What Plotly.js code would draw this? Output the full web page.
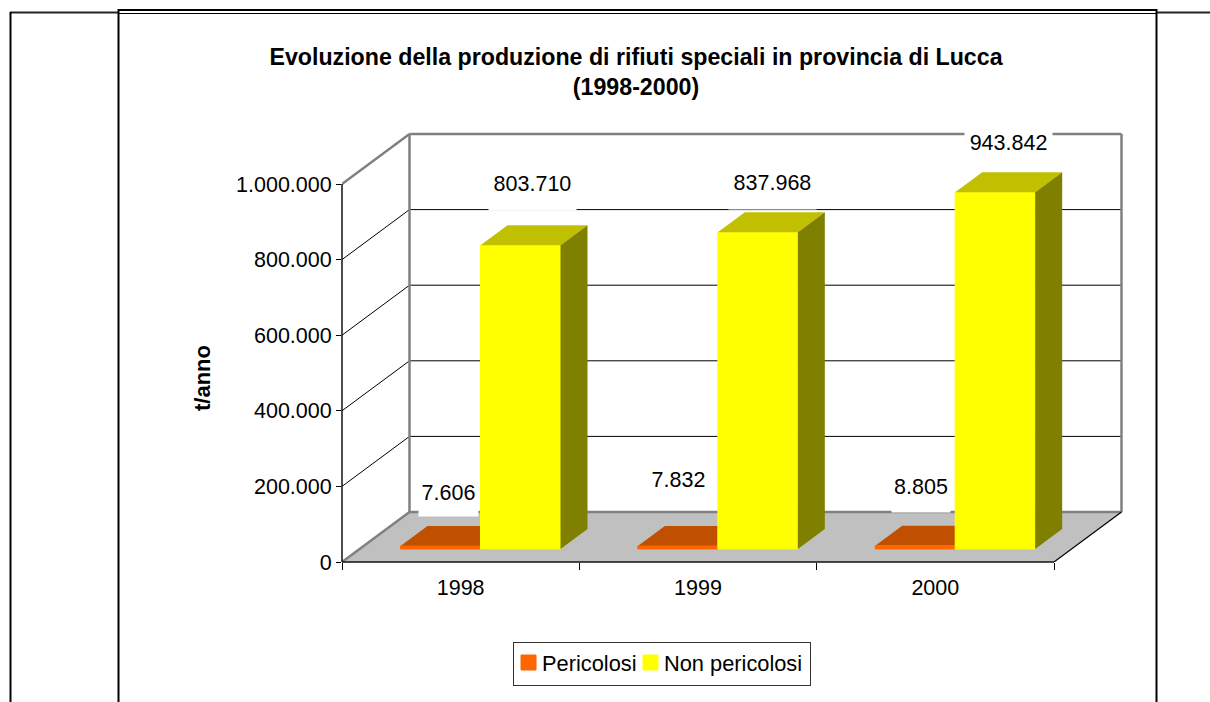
<!DOCTYPE html>
<html>
<head>
<meta charset="utf-8">
<script src="https://cdn.plot.ly/plotly-3.0.1.min.js"></script>
<style>html,body{margin:0;padding:0;background:#fff;overflow:hidden}</style>
</head>
<body>
<div id="chart" style="width:1210px;height:702px"></div>
<script>
// ---- data ----
const categories = ['1998', '1999', '2000'];
const pericolosi = [7606, 7832, 8805];
const nonPericolosi = [803710, 837968, 943842];
const yTicks = [0, 200000, 400000, 600000, 800000, 1000000];
const seriesNames = ['Pericolosi', 'Non pericolosi'];

// ---- plot geometry ----
const L = 342, R = 1054, B = 562, T = 184;      // front plane of the 3D box
const plotR = 1126, plotT = 128;                // plot rect also holds the receding walls
const N = categories.length;
const YMAXV = 1000000;
const pxX = (R - L) / N;                        // px per category
const pxY = (B - T) / YMAXV;                    // px per value unit
const xMax = (plotR - L) / pxX, yMax = (B - plotT) / pxY;
const DX = 67.5 / pxX;                          // full depth, x data units
const DY = 50 / pxY;                            // full depth, y data units
const dFront = 0.26, dBar = 0.40;               // bar position inside the depth
const barW = 80 / pxX;
const groupX = [98.5 / pxX, 178.5 / pxX];       // series centre inside a category

const fmt = v => String(v).replace(/\B(?=(\d{3})+(?!\d))/g, '.');
const P = (x, v, d) => [x + d * DX, v + d * DY];

function poly(points, color, axes) {
  const pts = points.concat([points[0]]);
  return Object.assign({
    type: 'scatter', mode: 'lines', x: pts.map(p => p[0]), y: pts.map(p => p[1]),
    fill: 'toself', fillcolor: color, line: {width: 0, color: color},
    hoverinfo: 'skip', showlegend: false
  }, axes || {});
}
function seg(a, b, color, width) {
  return {
    type: 'scatter', mode: 'lines', x: [a[0], b[0]], y: [a[1], b[1]],
    line: {color: color, width: width}, hoverinfo: 'skip', showlegend: false
  };
}
const over = {xaxis: 'x2', yaxis: 'y2'};

const traces = [];
// floor
traces.push(poly([P(0, 0, 0), P(N, 0, 0), P(N, 0, 1), P(0, 0, 1)], '#c0c0c0'));
// gridlines on the side and back walls
yTicks.forEach(v => {
  if (v > 0 && v < YMAXV) {
    traces.push(seg(P(0, v, 0), P(0, v, 1), '#000000', 1));
    traces.push(seg(P(0, v, 1), P(N, v, 1), '#000000', 1));
  }
});
// wall outlines
const G = '#808080';
traces.push(seg(P(0, YMAXV, 0), P(0, YMAXV, 1), G, 2.5));
traces.push(seg(P(0, YMAXV, 1), P(N, YMAXV, 1), G, 2.5));
traces.push(seg(P(0, 0, 1), P(0, YMAXV, 1), G, 2.5));
traces.push(seg(P(N, 0, 1), P(N, YMAXV, 1), G, 2.5));
traces.push(seg(P(0, 0, 1), P(N, 0, 1), G, 2.5));
traces.push(seg(P(0, 0, 0), P(0, 0, 1), G, 2.5));
traces.push(seg(P(N, 0, 0), P(N, 0, 1), '#000000', 1.2));

// depth faces of a bar
function faces(xc, v, topColor, sideColor, axes) {
  const x0 = xc - barW / 2, x1 = xc + barW / 2;
  const a = P(x0, v, dFront), b = P(x1, v, dFront);
  const c = P(x1, v, dFront + dBar), d = P(x0, v, dFront + dBar);
  const e = P(x1, 0, dFront + dBar), f = P(x1, 0, dFront);
  return [poly([a, b, c, d], topColor, axes), poly([b, c, e, f], sideColor, axes)];
}
pericolosi.forEach((v, i) => {
  traces.push(...faces(i + groupX[0] - dFront * DX, v, '#c05000', '#803300'));
});
// front faces, native bars on the overlaid axes
const baseVal = dFront * DY;
traces.push({
  type: 'bar', name: seriesNames[0], x: categories.map((c, i) => i + groupX[0]), y: pericolosi,
  base: baseVal, width: barW, marker: {color: '#ff6600', line: {color: '#ff6600', width: 1}},
  xaxis: 'x2', yaxis: 'y2', hoverinfo: 'y'
});
traces.push({
  type: 'bar', name: seriesNames[1], x: categories.map((c, i) => i + groupX[1]), y: nonPericolosi,
  base: baseVal, width: barW, marker: {color: '#ffff00', line: {color: '#ffff00', width: 1}},
  xaxis: 'x2', yaxis: 'y2', hoverinfo: 'y'
});
nonPericolosi.forEach((v, i) => {
  traces.push(...faces(i + groupX[1] - dFront * DX, v, '#c0c000', '#808000', over));
});

// value labels: hand-placed in the original, kept as pixel shifts from the bar's top-front centre
const FONT = 'Liberation Sans, Arial, sans-serif';
const labelFont = {family: FONT, size: 21.5, color: '#000'};
const annotations = [];
function label(v, i, g, sx, sy, w, h) {
  annotations.push({
    xref: 'x', yref: 'y', x: i + groupX[g], y: v + baseVal, text: fmt(v), showarrow: false,
    xanchor: 'center', yanchor: 'middle', xshift: sx, yshift: sy, width: w, height: h,
    bgcolor: '#ffffff', borderpad: 0, font: labelFont, captureevents: false
  });
}
const smallShift = [[8, 53, 59, 46], [1, 66, 57, 30], [6, 59, 58, 50]];
const bigShift = [[12, 61, 87, 52], [15, 49, 87, 52], [13, 49, 87, 26]];
pericolosi.forEach((v, i) => label(v, i, 0, ...smallShift[i]));
nonPericolosi.forEach((v, i) => label(v, i, 1, ...bigShift[i]));

// page frame (table cell borders in the source document) and the axis lines
const sx = px => (px - L) / (plotR - L), sy = py => (B - py) / (B - plotT);
const frame = (x0, y0, x1, y1, w, c) => ({
  type: 'line', xref: 'paper', yref: 'paper', x0: sx(x0), y0: sy(y0), x1: sx(x1), y1: sy(y1),
  line: {color: c || '#000', width: w}, layer: 'above'
});
const shapes = [
  frame(10, 12.5, 118, 12.5, 2, '#222'), frame(10.5, 12, 10.5, 702, 2),
  frame(118, 10, 1157, 10, 2), frame(118, 13.5, 1156, 13.5, 1),
  frame(118.5, 9, 118.5, 702, 2), frame(1156.5, 9, 1156.5, 702, 2),
  frame(1157, 12.5, 1210, 12.5, 2, '#222'),
  {type: 'line', xref: 'paper', yref: 'paper', x0: 0, x1: 0, y0: 0, y1: YMAXV / yMax, line: {color: '#111', width: 1.5}, layer: 'above'},
  {type: 'line', xref: 'paper', yref: 'paper', x0: 0, x1: N / xMax, y0: 0, y1: 0, line: {color: '#111', width: 1.5}, layer: 'above'}
];

const baseFont = {family: FONT, size: 21.5, color: '#000'};
const layout = {
  width: 1210, height: 702,
  margin: {l: L, r: 1210 - plotR, t: plotT, b: 702 - B, pad: 0},
  paper_bgcolor: '#fff', plot_bgcolor: 'rgba(0,0,0,0)',
  separators: ',.',
  font: baseFont,
  showlegend: true,
  hovermode: 'closest',
  barmode: 'overlay',
  title: {
    text: '<b>Evoluzione della produzione di rifiuti speciali in provincia di Lucca<br>(1998-2000)</b>',
    x: 636 / 1210, xanchor: 'center', xref: 'container', y: 1 - 65 / 702, yanchor: 'top',
    font: {family: FONT, size: 23.2, color: '#000'}
  },
  xaxis: {
    range: [0, xMax], showgrid: false, zeroline: false, fixedrange: true, showline: false,
    tickmode: 'array', tickvals: categories.map((c, i) => i + 0.5), ticktext: categories,
    ticks: '', ticklabelstandoff: 10, tickfont: baseFont,
    minor: {tickmode: 'array', tickvals: [0, 1, 2, 3], ticks: 'outside', ticklen: 7, tickcolor: '#000', tickwidth: 1, showgrid: false}
  },
  yaxis: {
    range: [0, yMax], showgrid: false, zeroline: false, fixedrange: true, showline: false,
    tickmode: 'array', tickvals: yTicks, tickformat: ',d',
    ticks: 'outside', ticklen: 5, tickcolor: '#000', tickwidth: 1, tickfont: baseFont,
    title: {text: '<b>t/anno</b>', font: {family: FONT, size: 22, color: '#000'}, standoff: 20}
  },
  xaxis2: {range: [0, xMax], overlaying: 'x', visible: false, fixedrange: true},
  yaxis2: {range: [0, yMax], overlaying: 'y', visible: false, fixedrange: true},
  legend: {
    orientation: 'h', x: 513 / 1210, xref: 'container', y: 1 - 642 / 702, yref: 'container',
    xanchor: 'left', yanchor: 'top', bordercolor: '#333', borderwidth: 1, bgcolor: '#fff',
    font: {family: FONT, size: 21.8, color: '#000'}, itemclick: false, itemdoubleclick: false, traceorder: 'normal'
  },
  annotations: annotations,
  shapes: shapes
};
Plotly.newPlot('chart', traces, layout, {displayModeBar: false, responsive: false}).then(() => {
  // tighten the native legend to the reference's compact spacing
  const legend = document.querySelector('.legend');
  const bg = legend.querySelector('rect.bg');
  bg.setAttribute('width', 297);
  bg.setAttribute('height', 43);
  const swatchCentre = [15.5, 137.5], textLeft = [29, 151];
  legend.querySelectorAll('.traces').forEach((g, i) => {
    g.setAttribute('transform', 'translate(0,20.5)');
    g.querySelector('text.legendtext').setAttribute('x', textLeft[i]);
    const p = g.querySelector('.legendpoints path');
    p.setAttribute('d', 'M7.5,7.5H-7.5V-7.5H7.5Z');
    p.setAttribute('transform', 'translate(' + swatchCentre[i] + ',0)');
  });
  // centre the y-axis title on the front plane rather than on the enlarged plot rect
  const yt = document.querySelector('.ytitle');
  const tx = parseFloat(yt.getAttribute('x')) + 1, ty = 378;
  yt.setAttribute('x', tx);
  yt.setAttribute('y', ty);
  yt.setAttribute('transform', 'rotate(-90,' + tx + ',' + ty + ')');
});
</script>
</body>
</html>
